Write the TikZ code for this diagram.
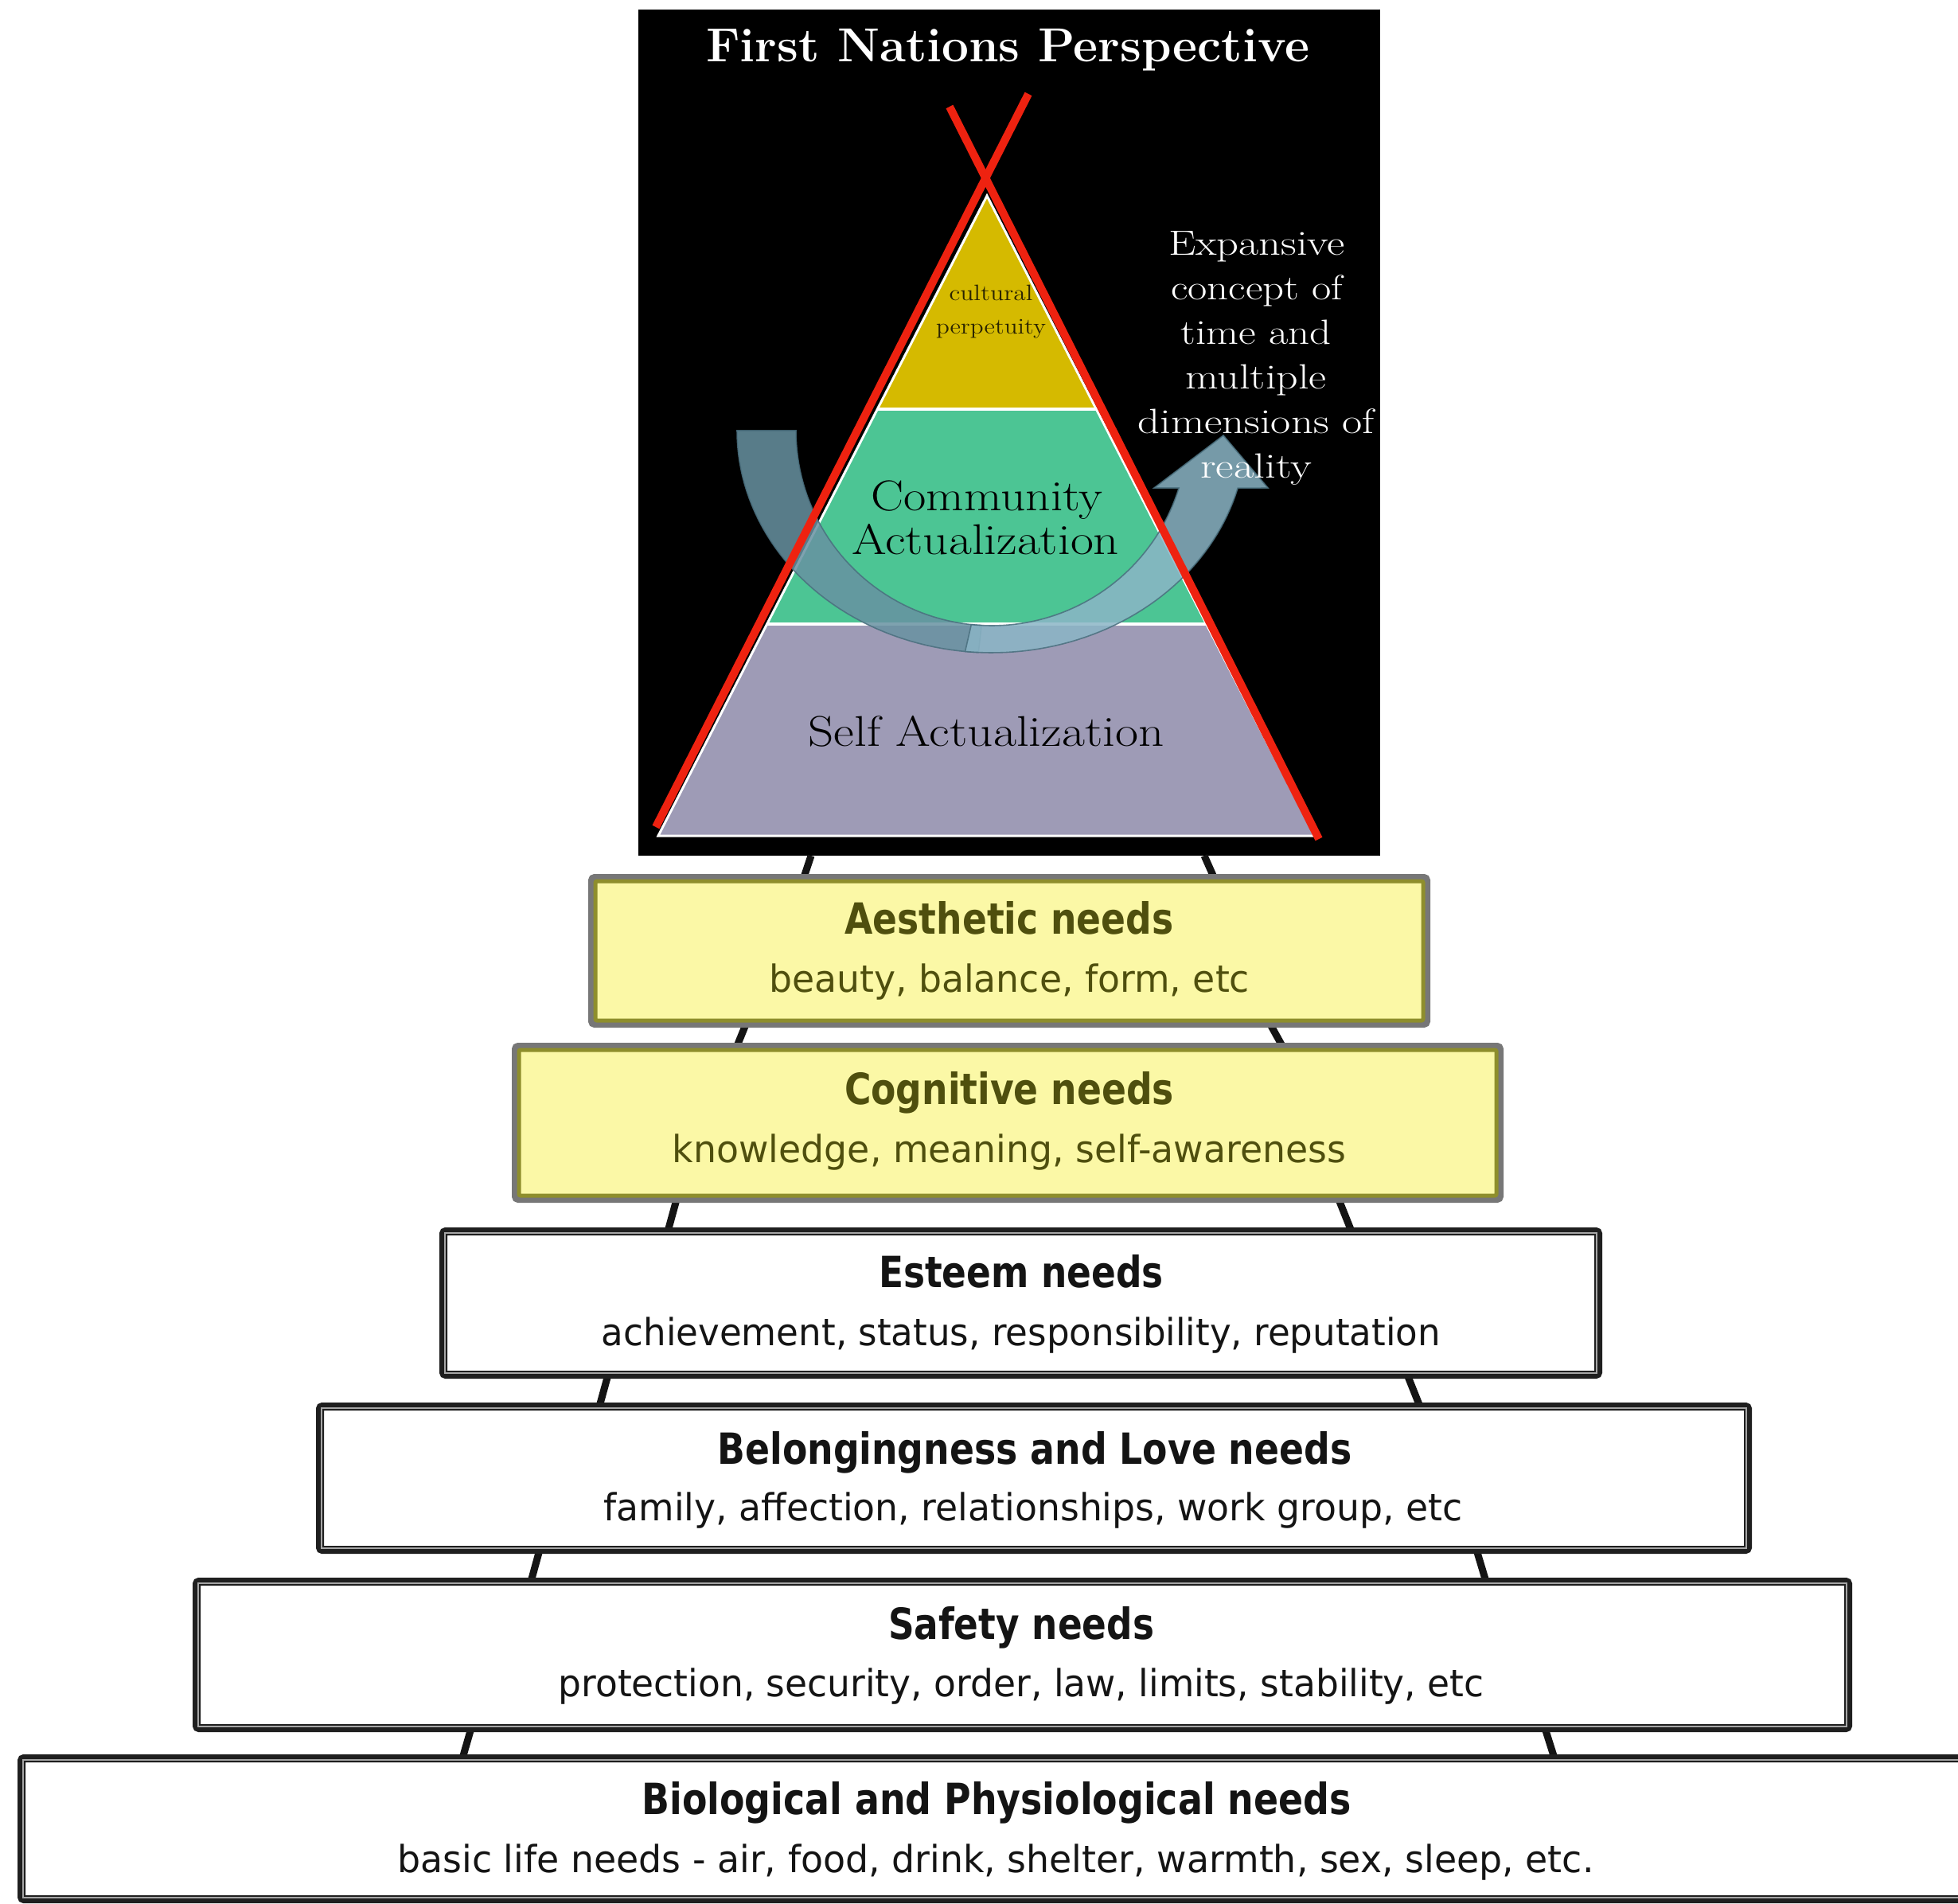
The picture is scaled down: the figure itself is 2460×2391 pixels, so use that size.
\documentclass[tikz,border=0pt]{standalone}
\usepackage{fontspec}
\setsansfont{DejaVu Sans}
\usepackage{graphicx}
\usetikzlibrary{calc}

\definecolor{poleRed}{HTML}{EE2210}
\definecolor{tipiGold}{HTML}{D5BA00}
\definecolor{tipiGreen}{HTML}{4CC594}
\definecolor{tipiLilac}{HTML}{9E9BB6}
\definecolor{arrowDark}{HTML}{6892A2}
\definecolor{arrowLight}{HTML}{8BB5C6}
\definecolor{arrowEdge}{HTML}{4A6F7E}
\definecolor{paleYellow}{HTML}{FBF8A6}
\definecolor{oliveLine}{HTML}{8E8E2C}
\definecolor{oliveText}{HTML}{4F4F0E}
\definecolor{frameGrey}{HTML}{777777}
\definecolor{inkText}{HTML}{2A2400}

% squeeze or stretch a line of text to a given width, keeping its height
\newcommand{\fitto}[2]{\resizebox{#1}{\height}{#2}}

\tikzset{
  yelbox/.style={draw=frameGrey, line width=4pt, fill=paleYellow, rounded corners=2pt, inner sep=0pt},
  yelinner/.style={draw=oliveLine, line width=2.5pt},
  whtbox/.style={draw=black!88, line width=5pt, fill=white, rounded corners=1.5pt, inner sep=0pt},
  whtinner/.style={draw=black!35, line width=1pt},
  leg/.style={draw=black!92, line width=4.5pt},
  needhead/.style={anchor=base, inner sep=0pt, font=\sffamily\bfseries\fontsize{27}{31}\selectfont},
  needlist/.style={anchor=base, inner sep=0pt, font=\sffamily\fontsize{23.5}{28}\selectfont},
  pole/.style={draw=poleRed, line width=5pt},
  tiertext/.style={anchor=base, inner sep=0pt, text=black, font=\fontsize{27}{32}\selectfont},
  sidetext/.style={anchor=base, inner sep=0pt, text=white, font=\fontsize{22}{26}\selectfont},
  bandfill/.style={opacity=0.85, draw=arrowEdge, line width=0.8pt},
}

\begin{document}
\begin{tikzpicture}[x=0.5pt,y=-0.5pt]
  \useasboundingbox (0,0) rectangle (2460,2391);
  \clip (0,0) rectangle (2460,2391);
  \fill[white] (0,0) rectangle (2460,2391);

  % ---------- teepee panel ----------
  \fill[black] (802,12) rectangle (1734,1075);
  \node[anchor=base, inner sep=0pt, text=white, font=\bfseries\fontsize{30}{36}\selectfont]
    (title) at (1266,78) {\fitto{379pt}{First Nations Perspective}};

  \coordinate (apex) at (1240,246);
  \coordinate (bl) at (827,1050);
  \coordinate (br) at (1652,1050);
  \coordinate (gl) at (1103,514);
  \coordinate (gr) at (1377,514);
  \coordinate (pl) at (964,784);
  \coordinate (pr) at (1516,784);

  \fill[tipiGold] (apex) -- (gr) -- (gl) -- cycle;
  \fill[tipiGreen] (gl) -- (gr) -- (pr) -- (pl) -- cycle;
  \fill[tipiLilac] (pl) -- (pr) -- (br) -- (bl) -- cycle;
  \draw[white, line width=1.5pt, line join=miter] (apex) -- (br) -- (bl) -- cycle;
  \draw[white, line width=2pt] (gl) -- (gr);
  \draw[white, line width=2pt] (pl) -- (pr);

  % U-turn ribbon arrow
  \fill[arrowDark, bandfill]
    plot[domain=180:93, samples=45] ({1246+320*cos(\x)},{541+279*sin(\x)})
    -- plot[domain=93:180, samples=45] ({1246+246*cos(\x)},{541+245*sin(\x)}) -- cycle;
  \fill[arrowLight, bandfill]
    plot[domain=96:15, samples=45] ({1246+320*cos(\x)},{541+279*sin(\x)})
    -- (1593,613) -- (1537,547) -- (1450,613)
    -- plot[domain=17.1:96, samples=45] ({1246+246*cos(\x)},{541+245*sin(\x)}) -- cycle;

  % crossed poles
  \coordinate (poleAtop) at (1193,134);
  \coordinate (poleAbot) at (1657,1054);
  \coordinate (poleBtop) at (1292,118);
  \coordinate (poleBbot) at (824,1039);
  \draw[pole] (poleAtop) -- (poleAbot);
  \draw[pole] (poleBtop) -- (poleBbot);

  % tier labels
  \node[anchor=base, inner sep=0pt, text=inkText, font=\fontsize{14}{17}\selectfont]
    (cult) at (1245,378) {\fitto{52.5pt}{cultural}};
  \node[anchor=base, inner sep=0pt, text=inkText, font=\fontsize{14}{17}\selectfont]
    (perp) at (1245,420) {\fitto{69pt}{perpetuity}};
  \node[tiertext] (comm) at (1240,641) {\fitto{145.5pt}{Community}};
  \node[tiertext] (actu) at (1238,696) {\fitto{168pt}{Actualization}};
  \node[tiertext] (self) at (1239,937) {\fitto{223.5pt}{Self Actualization}};

  % side note
  \node[sidetext] (s1) at (1579,321) {\fitto{111pt}{Expansive}};
  \node[sidetext] (s2) at (1579,377) {\fitto{108pt}{concept of}};
  \node[sidetext] (s3) at (1578,433) {\fitto{94.5pt}{time and}};
  \node[sidetext] (s4) at (1578,489) {\fitto{88.5pt}{multiple}};
  \node[sidetext] (s5) at (1578,545) {\fitto{148.5pt}{dimensions of}};
  \node[sidetext] (s6) at (1578,600) {\fitto{70pt}{reality}};

  % ---------- supports between the tiers ----------
  \coordinate (l0a) at (1019,1075);  \coordinate (l0b) at (1010,1102);
  \coordinate (r0a) at (1513,1075);  \coordinate (r0b) at (1525,1102);
  \coordinate (l1a) at (937,1287);   \coordinate (l1b) at (926,1314);
  \coordinate (r1a) at (1596,1287);  \coordinate (r1b) at (1611,1314);
  \coordinate (l2a) at (850,1507);   \coordinate (l2b) at (839,1547);
  \coordinate (r2a) at (1682,1507);  \coordinate (r2b) at (1698,1547);
  \coordinate (l3a) at (764,1727);   \coordinate (l3b) at (753,1767);
  \coordinate (r3a) at (1768,1727);  \coordinate (r3b) at (1784,1767);
  \coordinate (l4a) at (678,1947);   \coordinate (l4b) at (667,1987);
  \coordinate (r4a) at (1855,1947);  \coordinate (r4b) at (1867,1987);
  \coordinate (l5a) at (592,2171);   \coordinate (l5b) at (581,2209);
  \coordinate (r5a) at (1941,2171);  \coordinate (r5b) at (1953,2209);
  \foreach \k in {0,...,5} {
    \draw[leg] (l\k a) -- (l\k b);
    \draw[leg] (r\k a) -- (r\k b);
  }

  % ---------- need tiers ----------
  \node[yelbox, minimum width=525pt, minimum height=92.5pt] (aes) at (1268,1194.5) {};
  \draw[yelinner, rounded corners=1pt] ([xshift=4.5pt,yshift=-4.5pt]aes.north west) rectangle ([xshift=-4.5pt,yshift=4.5pt]aes.south east);
  \node[needhead, text=oliveText] (aesT) at (1268,1173) {\fitto{206.5pt}{Aesthetic needs}};
  \node[needlist, text=oliveText] (aesS) at (1268,1246) {\fitto{302pt}{beauty, balance, form, etc}};

  \node[yelbox, minimum width=619pt, minimum height=96.5pt] (cog) at (1266,1410.5) {};
  \draw[yelinner, rounded corners=1pt] ([xshift=4.5pt,yshift=-4.5pt]cog.north west) rectangle ([xshift=-4.5pt,yshift=4.5pt]cog.south east);
  \node[needhead, text=oliveText] (cogT) at (1268,1387) {\fitto{207pt}{Cognitive needs}};
  \node[needlist, text=oliveText] (cogS) at (1268,1460) {\fitto{423pt}{knowledge, meaning, self-awareness}};

  \node[whtbox, minimum width=725.5pt, minimum height=90pt] (est) at (1282.5,1637) {};
  \draw[whtinner] ([xshift=3.5pt,yshift=-3.5pt]est.north west) rectangle ([xshift=-3.5pt,yshift=3.5pt]est.south east);
  \node[needhead, text=black!92] (estT) at (1283,1617) {\fitto{179pt}{Esteem needs}};
  \node[needlist, text=black!92] (estS) at (1283,1690) {\fitto{527pt}{achievement, status, responsibility, reputation}};

  \node[whtbox, minimum width=897pt, minimum height=90pt] (bel) at (1299,1857) {};
  \draw[whtinner] ([xshift=3.5pt,yshift=-3.5pt]bel.north west) rectangle ([xshift=-3.5pt,yshift=3.5pt]bel.south east);
  \node[needhead, text=black!92] (belT) at (1300,1839) {\fitto{398.5pt}{Belongingness and Love needs}};
  \node[needlist, text=black!92] (belS) at (1298,1910) {\fitto{539.5pt}{family, affection, relationships, work group, etc}};

  \node[whtbox, minimum width=1037.5pt, minimum height=92pt] (saf) at (1284.5,2079) {};
  \draw[whtinner] ([xshift=3.5pt,yshift=-3.5pt]saf.north west) rectangle ([xshift=-3.5pt,yshift=3.5pt]saf.south east);
  \node[needhead, text=black!92] (safT) at (1283,2059) {\fitto{167pt}{Safety needs}};
  \node[needlist, text=black!92] (safS) at (1283,2131) {\fitto{581.5pt}{protection, security, order, law, limits, stability, etc}};

  \node[whtbox, minimum width=1300pt, minimum height=88.5pt] (bio) at (1327,2297.5) {};
  \draw[whtinner] ([xshift=3.5pt,yshift=-3.5pt]bio.north west) rectangle ([xshift=-3.5pt,yshift=3.5pt]bio.south east);
  \node[needhead, text=black!92] (bioT) at (1252,2279) {\fitto{445.5pt}{Biological and Physiological needs}};
  \node[needlist, text=black!92] (bioS) at (1251,2352) {\fitto{751.5pt}{basic life needs - air, food, drink, shelter, warmth, sex, sleep, etc.}};
\end{tikzpicture}
\end{document}
